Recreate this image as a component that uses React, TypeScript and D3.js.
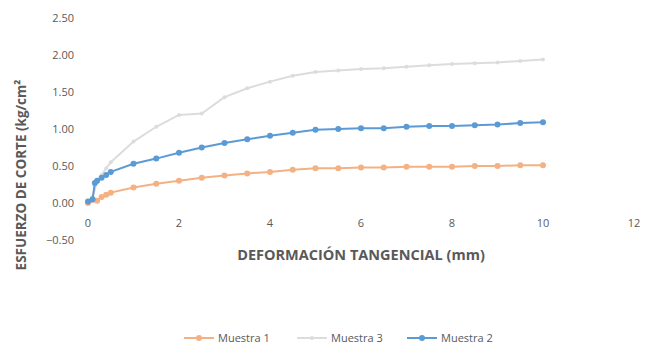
import React, { useEffect, useRef } from 'react';
import * as d3 from 'd3';

// deformación tangencial (mm)
const xMuestra1 = [0, 0.2, 0.3, 0.4, 0.5, 1, 1.5, 2, 2.5, 3, 3.5, 4, 4.5, 5, 5.5, 6, 6.5, 7, 7.5, 8, 8.5, 9, 9.5, 10];
const yMuestra1 = [0.0, 0.03, 0.08, 0.11, 0.14, 0.21, 0.26, 0.30, 0.34, 0.37, 0.40, 0.42, 0.45, 0.47, 0.47, 0.48, 0.48, 0.49, 0.49, 0.49, 0.50, 0.50, 0.51, 0.51];

const xMuestra3 = [0, 0.1, 0.2, 0.3, 0.4, 0.5, 1, 1.5, 2, 2.5, 3, 3.5, 4, 4.5, 5, 5.5, 6, 6.5, 7, 7.5, 8, 8.5, 9, 9.5, 10];
const yMuestra3 = [0.02, 0.08, 0.28, 0.38, 0.47, 0.55, 0.83, 1.03, 1.19, 1.21, 1.43, 1.55, 1.64, 1.72, 1.77, 1.79, 1.81, 1.82, 1.84, 1.86, 1.88, 1.89, 1.90, 1.92, 1.94];

const xMuestra2 = [0, 0.1, 0.15, 0.2, 0.3, 0.4, 0.5, 1, 1.5, 2, 2.5, 3, 3.5, 4, 4.5, 5, 5.5, 6, 6.5, 7, 7.5, 8, 8.5, 9, 9.5, 10];
const yMuestra2 = [0.02, 0.05, 0.27, 0.30, 0.34, 0.38, 0.42, 0.53, 0.60, 0.68, 0.75, 0.81, 0.86, 0.91, 0.95, 0.99, 1.00, 1.01, 1.01, 1.03, 1.04, 1.04, 1.05, 1.06, 1.08, 1.09];

const xTicks = [0, 2, 4, 6, 8, 10, 12];
const yTicks = [-0.5, 0, 0.5, 1, 1.5, 2, 2.5];

const seriesNames = ['Muestra 1', 'Muestra 3', 'Muestra 2'];
const seriesColors = ['#F4B183', '#DCDCDC', '#5B9BD5'];

export default function App() {
  const svgRef = useRef<SVGSVGElement>(null);

  useEffect(() => {
    if (!svgRef.current) return;
    const svg = d3.select(svgRef.current);
    svg.selectAll('*').remove();

    const font = '"Open Sans", sans-serif';
    const textColor = '#595959';

    const x = d3.scaleLinear().domain([0, 12]).range([88, 634]);
    const y = d3.scaleLinear().domain([-0.5, 2.5]).range([240, 18]);

    const series = [
      { name: seriesNames[0], color: seriesColors[0], pts: xMuestra1.map((v, i) => [v, yMuestra1[i]] as [number, number]) },
      { name: seriesNames[1], color: seriesColors[1], pts: xMuestra3.map((v, i) => [v, yMuestra3[i]] as [number, number]) },
      { name: seriesNames[2], color: seriesColors[2], pts: xMuestra2.map((v, i) => [v, yMuestra2[i]] as [number, number]) },
    ];

    // y tick labels
    svg.append('g')
      .selectAll('text')
      .data(yTicks)
      .join('text')
      .attr('x', 74)
      .attr('y', d => y(d) + 4)
      .attr('text-anchor', 'end')
      .attr('font-family', font)
      .attr('font-size', 11)
      .attr('fill', textColor)
      .text(d => d3.format('.2f')(d));

    // x tick labels
    svg.append('g')
      .selectAll('text')
      .data(xTicks)
      .join('text')
      .attr('x', d => x(d))
      .attr('y', 227)
      .attr('text-anchor', 'middle')
      .attr('font-family', font)
      .attr('font-size', 11)
      .attr('fill', textColor)
      .text(d => String(d));

    // axis titles
    svg.append('text')
      .attr('x', 361)
      .attr('y', 260)
      .attr('text-anchor', 'middle')
      .attr('font-family', font)
      .attr('font-size', 14.5)
      .attr('font-weight', 'bold')
      .attr('fill', textColor)
      .text('DEFORMACIÓN TANGENCIAL (mm)');

    svg.append('text')
      .attr('transform', 'translate(26,175) rotate(-90)')
      .attr('text-anchor', 'middle')
      .attr('font-family', font)
      .attr('font-size', 13.5)
      .attr('font-weight', 'bold')
      .attr('fill', textColor)
      .text('ESFUERZO DE CORTE (kg/cm²');

    const line = d3.line<[number, number]>()
      .x(d => x(d[0]))
      .y(d => y(d[1]));

    // draw back to front: Muestra 3, Muestra 1, Muestra 2
    const order = [1, 0, 2];
    order.forEach(i => {
      const s = series[i];
      const g = svg.append('g');
      g.append('path')
        .attr('d', line(s.pts))
        .attr('fill', 'none')
        .attr('stroke', s.color)
        .attr('stroke-width', 2);
      g.selectAll('circle')
        .data(s.pts)
        .join('circle')
        .attr('cx', d => x(d[0]))
        .attr('cy', d => y(d[1]))
        .attr('r', i === 1 ? 2 : 3)
        .attr('fill', s.color);
    });

    // legend
    const legendX = [184, 297, 407];
    const legend = svg.append('g');
    series.forEach((s, i) => {
      const lg = legend.append('g').attr('transform', `translate(${legendX[i]},338)`);
      lg.append('line')
        .attr('x1', 0).attr('x2', 30)
        .attr('y1', 0).attr('y2', 0)
        .attr('stroke', s.color)
        .attr('stroke-width', 2);
      lg.append('circle')
        .attr('cx', 15).attr('cy', 0)
        .attr('r', i === 1 ? 2 : 3)
        .attr('fill', s.color);
      lg.append('text')
        .attr('x', 34)
        .attr('y', 4)
        .attr('font-family', font)
        .attr('font-size', 11)
        .attr('fill', textColor)
        .text(s.name);
    });
  }, []);

  return (
    <svg
      ref={svgRef}
      width={653}
      height={360}
      style={{ position: 'absolute', left: 0, top: 0, background: '#fff' }}
    />
  );
}
